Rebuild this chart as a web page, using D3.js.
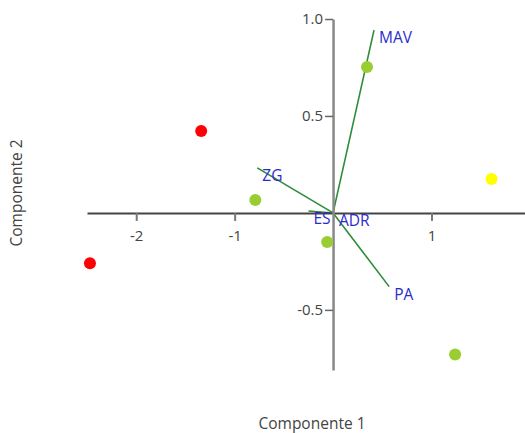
<!DOCTYPE html>
<html>
<head>
<meta charset="utf-8">
<script src="https://cdn.jsdelivr.net/npm/d3@7"></script>
<style>
  body { margin: 0; background: #fff; }
  text { font-family: "Open Sans", "Noto Sans", sans-serif; }
</style>
</head>
<body>
<script>
//Declare VARIABLES
const w = 525
const h = 433

// scores (points)
const pointX = [-2.47, -1.34, -0.79, 0.345, -0.06, 1.24, 1.61]
const pointY = [-0.26, 0.423, 0.067, 0.753, -0.15, -0.73, 0.175]
const pointGroup = ['a', 'a', 'b', 'b', 'b', 'b', 'c']
const groupColors = { a: '#ff0000', b: '#9acd32', c: '#ffff00' }

// loadings (vectors)
const varNames = ['MAV', 'ZG', 'PA', 'ES', 'ADR']
const varX = [0.416, -0.77, 0.57, -0.25, 0.01]
const varY = [0.943, 0.232, -0.38, 0.01, 0.0]

const xTicks = [-2, -1, 1]
const yTicks = [1.0, 0.5, -0.5]

// hyphen minus instead of unicode minus
const locale = d3.formatLocale({ decimal: '.', thousands: ',', grouping: [3], currency: ['', ''], minus: '-' })

//Declare SVG
const svg = d3.select('body')
  .append('svg')
  .attr('width', w)
  .attr('height', h)

//Scales
const xScale = d3.scaleLinear().domain([-2.5, 1.95]).range([87, 525])
const yScale = d3.scaleLinear().domain([-0.81, 1.0]).range([370, 19])

//Vectors
svg.selectAll('line.vec')
  .data(varNames)
  .enter()
  .append('line')
  .attr('class', 'vec')
  .attr('x1', xScale(0))
  .attr('y1', yScale(0))
  .attr('x2', (d, i) => xScale(varX[i]))
  .attr('y2', (d, i) => yScale(varY[i]))
  .attr('stroke', '#2e8b3a')
  .attr('stroke-width', 1.6)

//X Axis
const xAxis = d3.axisBottom(xScale).tickValues(xTicks).tickSize(8).tickSizeOuter(0)
  .tickFormat(locale.format('d'))
const gx = svg.append('g')
  .attr('transform', 'translate(0,' + yScale(0) + ')')
  .call(xAxis)
gx.select('.domain').attr('stroke', '#444').attr('stroke-width', 2)
gx.selectAll('.tick line').attr('stroke', '#777').attr('stroke-width', 2)
gx.selectAll('.tick text').attr('fill', '#444').attr('dy', '1.15em')
  .style('font-size', '15px')

//Y Axis
const yAxis = d3.axisLeft(yScale).tickValues(yTicks).tickSize(8).tickSizeOuter(0)
  .tickFormat(locale.format('.1f'))
const gy = svg.append('g')
  .attr('transform', 'translate(' + xScale(0) + ',0)')
  .call(yAxis)
gy.select('.domain').attr('stroke', '#888').attr('stroke-width', 2.5)
gy.selectAll('.tick line').attr('stroke', '#666').attr('stroke-width', 1.5)
gy.selectAll('.tick text').attr('fill', '#444').attr('x', -10)
  .style('font-size', '15px')

//Points
svg.selectAll('circle')
  .data(pointX)
  .enter()
  .append('circle')
  .attr('cx', (d) => xScale(d))
  .attr('cy', (d, i) => yScale(pointY[i]))
  .attr('r', 6)
  .attr('fill', (d, i) => groupColors[pointGroup[i]])

//Vector labels
svg.selectAll('text.lab')
  .data(varNames)
  .enter()
  .append('text')
  .attr('class', 'lab')
  .attr('x', (d, i) => xScale(varX[i]) + 5)
  .attr('y', (d, i) => yScale(varY[i]) + 13)
  .attr('fill', '#2b2bcc')
  .style('font-size', '15.5px')
  .text((d) => d)

//Axis titles
svg.append('text')
  .attr('x', 312)
  .attr('y', 429)
  .attr('text-anchor', 'middle')
  .attr('fill', '#444')
  .style('font-size', '15.5px')
  .text('Componente 1')

svg.append('text')
  .attr('transform', 'translate(22,193) rotate(-90)')
  .attr('text-anchor', 'middle')
  .attr('fill', '#444')
  .style('font-size', '15.5px')
  .text('Componente 2')
</script>
</body>
</html>
